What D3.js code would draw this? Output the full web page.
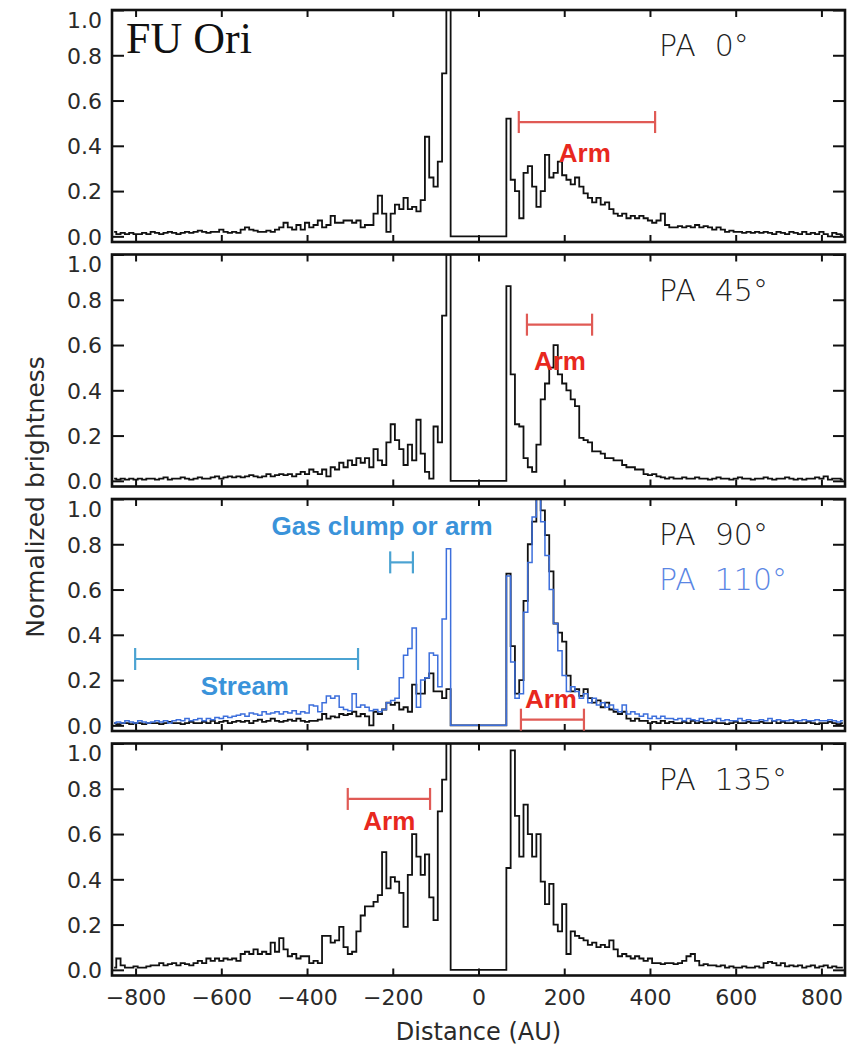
<!DOCTYPE html>
<html><head><meta charset="utf-8">
<script src="https://cdn.jsdelivr.net/npm/d3@7/dist/d3.min.js"></script>
<style>
html,body{margin:0;padding:0;background:#fff;}
svg{display:block;}
</style></head>
<body>
<svg id="chart" width="852" height="1050"></svg>
<script>
// ---------------- DATA ----------------
const distance = [
-850,-840,-830,-820,-810,-800,-790,-780,-770,-760,
-750,-740,-730,-720,-710,-700,-690,-680,-670,-660,
-650,-640,-630,-620,-610,-600,-590,-580,-570,-560,
-550,-540,-530,-520,-510,-500,-490,-480,-470,-460,
-450,-440,-430,-420,-410,-400,-390,-380,-370,-360,
-350,-340,-330,-320,-310,-300,-290,-280,-270,-260,
-250,-240,-230,-220,-210,-200,-190,-180,-170,-160,
-150,-140,-130,-120,-110,-100,-90,-80,-70,-60,
-50,-40,-30,-20,-10,0,10,20,30,40,
50,60,70,80,90,100,110,120,130,140,
150,160,170,180,190,200,210,220,230,240,
250,260,270,280,290,300,310,320,330,340,
350,360,370,380,390,400,410,420,430,440,
450,460,470,480,490,500,510,520,530,540,
550,560,570,580,590,600,610,620,630,640,
650,660,670,680,690,700,710,720,730,740,
750,760,770,780,790,800,810,820,830,840,
850];

const pa0 = [
0.02,0.01,0.015,0.01,0.015,0.01,0.01,0.015,0.01,0.02,
0.015,0.01,0.015,0.02,0.015,0.01,0.015,0.02,0.015,0.02,
0.025,0.02,0.015,0.02,0.02,0.03,0.02,0.015,0.02,0.015,
0.03,0.04,0.03,0.025,0.02,0.02,0.025,0.02,0.03,0.04,
0.06,0.04,0.03,0.05,0.03,0.06,0.04,0.05,0.07,0.04,
0.05,0.09,0.06,0.06,0.07,0.07,0.06,0.07,0.04,0.05,
0.05,0.1,0.18,0.1,0.02,0.1,0.14,0.12,0.17,0.12,
0.13,0.11,0.16,0.44,0.26,0.22,0.33,0.72,1.0,0,
0,0,0,0,0,0,0,0,0,0,
0,0,0.52,0.25,0.2,0.08,0.28,0.31,0.22,0.13,
0.2,0.36,0.26,0.28,0.33,0.27,0.25,0.23,0.26,0.22,
0.19,0.17,0.15,0.17,0.14,0.15,0.12,0.1,0.09,0.1,
0.08,0.09,0.08,0.09,0.08,0.07,0.06,0.07,0.1,0.05,
0.04,0.04,0.045,0.04,0.045,0.04,0.05,0.04,0.045,0.04,
0.03,0.04,0.03,0.02,0.025,0.02,0.02,0.015,0.02,0.015,
0.02,0.015,0.02,0.015,0.01,0.02,0.015,0.01,0.02,0.015,
0.01,0.02,0.01,0.015,0.01,0.02,0.01,0.0,0.015,0.01,
0.005];

const pa45 = [
0.01,0.005,0.01,0.005,0.01,0.005,0.01,0.005,0.01,0.01,
0.005,0.01,0.015,0.005,0.01,0.01,0.015,0.01,0.005,0.01,
0.015,0.01,0.01,0.015,0.02,0.01,0.015,0.02,0.015,0.02,
0.015,0.02,0.025,0.02,0.015,0.02,0.03,0.02,0.025,0.03,
0.025,0.03,0.02,0.03,0.04,0.03,0.05,0.04,0.03,0.05,
0.02,0.06,0.05,0.08,0.06,0.09,0.07,0.1,0.08,0.1,
0.06,0.14,0.09,0.07,0.17,0.25,0.18,0.14,0.07,0.16,
0.09,0.27,0.12,0.04,0.01,0.24,0.17,0.73,1.0,0,
0,0,0,0,0,0,0,0,0,0,
0,0,0.86,0.47,0.25,0.24,0.1,0.06,0.04,0.16,
0.36,0.43,0.5,0.6,0.47,0.43,0.4,0.36,0.33,0.19,
0.18,0.17,0.13,0.13,0.12,0.1,0.1,0.09,0.09,0.07,
0.06,0.06,0.05,0.05,0.03,0.025,0.03,0.02,0.015,0.01,
0.015,0.01,0.01,0.015,0.01,0.01,0.015,0.01,0.01,0.005,
0.01,0.015,0.01,0.01,0.005,0.01,0.015,0.01,0.01,0.005,
0.01,0.01,0.015,0.01,0.005,0.01,0.01,0.015,0.01,0.005,
0.01,0.005,0.01,0.01,0.015,0.01,0.02,0.005,0.01,0.01,
0.005];

const pa90 = [
0.01,0.005,0.01,0.01,0.005,0.01,0.01,0.005,0.01,0.01,
0.01,0.005,0.01,0.015,0.01,0.01,0.005,0.01,0.015,0.01,
0.01,0.015,0.01,0.02,0.01,0.015,0.02,0.01,0.015,0.02,
0.015,0.02,0.01,0.02,0.025,0.015,0.02,0.03,0.02,0.015,
0.02,0.025,0.02,0.03,0.02,0.015,0.02,0.02,0.025,0.05,
0.03,0.04,0.035,0.05,0.045,0.05,0.06,0.04,0.05,0.04,
0.0,0.06,0.05,0.07,0.1,0.09,0.1,0.07,0.08,0.06,
0.18,0.14,0.14,0.21,0.23,0.15,0.15,0.12,0.16,0,
0,0,0,0,0,0,0,0,0,0,
0,0,0.67,0.35,0.14,0.2,0.55,0.8,0.9,1.0,
0.95,0.84,0.68,0.45,0.41,0.37,0.22,0.15,0.16,0.13,
0.16,0.12,0.1,0.11,0.08,0.1,0.07,0.06,0.05,0.06,
0.03,0.02,0.03,0.02,0.02,0.01,0.015,0.01,0.02,0.01,
0.015,0.01,0.01,0.015,0.01,0.02,0.01,0.015,0.01,0.01,
0.015,0.01,0.01,0.005,0.01,0.015,0.01,0.01,0.015,0.01,
0.01,0.015,0.01,0.01,0.02,0.01,0.015,0.01,0.01,0.015,
0.01,0.01,0.015,0.01,0.005,0.01,0.01,0.015,0.01,0.005,
0.01];

const pa110 = [
0.01,0.015,0.01,0.02,0.015,0.01,0.02,0.015,0.01,0.015,
0.02,0.015,0.02,0.01,0.02,0.025,0.02,0.03,0.02,0.025,
0.03,0.02,0.03,0.025,0.035,0.03,0.04,0.035,0.04,0.045,
0.05,0.04,0.055,0.05,0.045,0.06,0.05,0.055,0.06,0.05,
0.06,0.055,0.065,0.05,0.06,0.055,0.09,0.085,0.06,0.1,
0.13,0.12,0.13,0.08,0.07,0.065,0.14,0.08,0.09,0.08,
0.065,0.07,0.06,0.07,0.1,0.11,0.12,0.21,0.31,0.34,
0.43,0.08,0.2,0.21,0.32,0.31,0.17,0.47,0.78,0,
0,0,0,0,0,0,0,0,0,0,
0,0,0.66,0.28,0.12,0.14,0.5,0.72,0.92,1.0,
0.9,0.75,0.6,0.45,0.33,0.22,0.15,0.17,0.15,0.12,
0.14,0.1,0.12,0.09,0.1,0.08,0.09,0.07,0.06,0.09,
0.05,0.06,0.05,0.04,0.05,0.03,0.04,0.03,0.04,0.03,
0.03,0.025,0.03,0.02,0.03,0.025,0.02,0.03,0.02,0.025,
0.02,0.03,0.02,0.025,0.02,0.02,0.03,0.02,0.025,0.02,
0.02,0.025,0.02,0.03,0.02,0.025,0.02,0.02,0.025,0.02,
0.02,0.025,0.02,0.02,0.025,0.02,0.02,0.025,0.02,0.015,
0.02];

const pa135 = [
0.01,0.05,0.02,0.01,0.01,0.015,0.01,0.01,0.015,0.02,
0.02,0.03,0.02,0.025,0.03,0.02,0.03,0.025,0.02,0.03,
0.04,0.03,0.05,0.04,0.05,0.04,0.05,0.045,0.05,0.04,
0.07,0.08,0.07,0.09,0.07,0.08,0.07,0.12,0.08,0.14,
0.09,0.06,0.07,0.05,0.06,0.06,0.03,0.04,0.03,0.15,
0.15,0.12,0.13,0.19,0.1,0.07,0.08,0.17,0.24,0.28,
0.28,0.3,0.33,0.52,0.36,0.41,0.39,0.34,0.19,0.42,
0.6,0.5,0.42,0.51,0.32,0.22,0.7,0.84,1.0,0,
0,0,0,0,0,0,0,0,0,0,
0,0,0.45,0.97,0.68,0.5,0.73,0.6,0.5,0.6,
0.39,0.29,0.38,0.2,0.17,0.29,0.07,0.17,0.15,0.14,
0.13,0.11,0.12,0.1,0.11,0.1,0.13,0.09,0.06,0.07,
0.06,0.05,0.06,0.05,0.04,0.05,0.03,0.03,0.025,0.03,
0.03,0.025,0.03,0.04,0.06,0.07,0.04,0.02,0.025,0.02,
0.02,0.015,0.02,0.01,0.015,0.01,0.01,0.015,0.01,0.01,
0.015,0.01,0.03,0.035,0.03,0.02,0.03,0.015,0.02,0.015,
0.02,0.01,0.015,0.02,0.01,0.015,0.02,0.01,0.015,0.01,
0.01];

const xTicks = [-800,-600,-400,-200,0,200,400,600,800];
const yTicks = [0.0,0.2,0.4,0.6,0.8,1.0];
const panelLabels = [["PA 0°"],["PA 45°"],["PA 90°","PA 110°"],["PA 135°"]];
const panelSeries = [[pa0],[pa45],[pa90,pa110],[pa135]];

// annotations (distance in AU, value in brightness units)
const bars = [
  {panel:0, x0:94,   x1:412,  v:0.505, kind:"red"},
  {panel:1, x0:113,  x1:265,  v:0.69,  kind:"red"},
  {panel:2, x0:-206, x1:-153, v:0.72,  kind:"blue"},
  {panel:2, x0:-801, x1:-281, v:0.293, kind:"blue"},
  {panel:2, x0:99,   x1:246,  v:0.025, kind:"red"},
  {panel:3, x0:-305, x1:-113, v:0.755, kind:"red"}
];
const notes = [
  {panel:0, x:248,  v:0.33,  text:"Arm", kind:"red"},
  {panel:1, x:190,  v:0.49,  text:"Arm", kind:"red"},
  {panel:2, x:-225, v:0.84,  text:"Gas clump or arm", kind:"blue"},
  {panel:2, x:-545, v:0.135, text:"Stream", kind:"blue"},
  {panel:2, x:169,  v:0.076, text:"Arm", kind:"red"},
  {panel:3, x:-208, v:0.62,  text:"Arm", kind:"red"}
];

// ---------------- LAYOUT ----------------
const svg = d3.select("#chart");
const L = 112, R = 845;
const panelTops = [10, 254.5, 499, 743.5];
const PH = 232;
const x = d3.scaleLinear().domain([-855, 855]).range([L, R]);
const tickFont = "'DejaVu Sans', sans-serif";
const lineColors = ["#111", "#3d6fdc"];
const annColor = {red: {bar: "#e05a55", text: "#e8281e"}, blue: {bar: "#4ba3d2", text: "#3a93da"}};

svg.append("rect").attr("width", 852).attr("height", 1050).attr("fill", "#fff");

panelTops.forEach((top, pi) => {
  const y = d3.scaleLinear().domain([-0.025, 1.0]).range([top + PH, top]);
  const g = svg.append("g");
  const clipId = "clip" + pi;
  svg.append("clipPath").attr("id", clipId).append("rect")
    .attr("x", L).attr("y", top).attr("width", R - L).attr("height", PH);

  // series lines
  const line = d3.line().x((d, i) => x(distance[i])).y(d => y(d)).curve(d3.curveStep);
  panelSeries[pi].forEach((s, si) => {
    g.append("path").attr("d", line(s)).attr("fill", "none")
      .attr("stroke", lineColors[si]).attr("stroke-width", si === 0 ? 1.8 : 1.5)
      .attr("stroke-linejoin", "miter")
      .attr("clip-path", `url(#${clipId})`);
  });

  // ticks (inward) via d3 axes
  const axL = d3.axisLeft(y).tickValues(yTicks).tickSize(-12).tickFormat(d3.format(".1f"));
  const axR = d3.axisRight(y).tickValues(yTicks).tickSize(-12).tickFormat("");
  const axT = d3.axisTop(x).tickValues(xTicks).tickSize(-7).tickFormat("");
  const axB = d3.axisBottom(x).tickValues(xTicks).tickSize(-7)
    .tickFormat(pi === 3 ? (d => (d < 0 ? "\u2212" + Math.abs(d) : d)) : "");

  const gl = g.append("g").attr("transform", `translate(${L},0)`).call(axL);
  const gr = g.append("g").attr("transform", `translate(${R},0)`).call(axR);
  const gt = g.append("g").attr("transform", `translate(0,${top})`).call(axT);
  const gb = g.append("g").attr("transform", `translate(0,${top + PH})`).call(axB);
  [gl, gr, gt, gb].forEach(a => {
    a.select(".domain").remove();
    a.selectAll(".tick line").attr("stroke", "#111").attr("stroke-width", 2);
  });
  gl.selectAll(".tick text").attr("font-family", tickFont).attr("font-size", 22)
    .attr("fill", "#2a2a2a").attr("x", -10)
    .attr("dy", d => d === 1.0 ? "0.78em" : "0.36em");
  gb.selectAll(".tick text").attr("font-family", tickFont).attr("font-size", 22)
    .attr("fill", "#2a2a2a").attr("y", 14).attr("dy", "0.71em");

  // frame
  g.append("rect").attr("x", L).attr("y", top).attr("width", R - L).attr("height", PH)
    .attr("fill", "none").attr("stroke", "#111").attr("stroke-width", 2.6);

  // PA labels
  panelLabels[pi].forEach((t, k) => {
    g.append("text").attr("x", 659).attr("y", top + 46 + k * 45)
      .attr("font-family", tickFont).attr("font-weight", 300).attr("font-size", 30)
      .attr("fill", k === 0 ? "#222" : "#5a86e4")
      .style("white-space", "pre").text(t.replace(" ", "  "));
  });

  // annotation bars
  bars.filter(b => b.panel === pi).forEach(b => {
    const c = annColor[b.kind].bar, yy = y(b.v);
    g.append("line").attr("x1", x(b.x0)).attr("x2", x(b.x1)).attr("y1", yy).attr("y2", yy)
      .attr("stroke", c).attr("stroke-width", 2.2);
    [b.x0, b.x1].forEach(xx => g.append("line").attr("x1", x(xx)).attr("x2", x(xx))
      .attr("y1", yy - 11).attr("y2", yy + 11).attr("stroke", c).attr("stroke-width", 2.2));
  });
  notes.filter(n => n.panel === pi).forEach(n => {
    g.append("text").attr("x", x(n.x)).attr("y", y(n.v)).attr("text-anchor", "middle")
      .attr("font-family", "'Liberation Sans', Arial, sans-serif").attr("font-weight", "bold")
      .attr("font-size", 26).attr("fill", annColor[n.kind].text).text(n.text);
  });
});

// FU Ori
svg.append("text").attr("x", 126).attr("y", 53)
  .attr("font-family", "'Liberation Serif', 'Times New Roman', serif").attr("font-size", 44)
  .attr("fill", "#111").text("FU Ori");

// axis titles
svg.append("text").attr("x", x(0)).attr("y", 1040).attr("text-anchor", "middle")
  .attr("font-family", tickFont).attr("font-size", 24).attr("fill", "#2a2a2a").text("Distance (AU)");
svg.append("text").attr("transform", "translate(44,497) rotate(-90)").attr("text-anchor", "middle")
  .attr("font-family", tickFont).attr("font-size", 25).attr("fill", "#2a2a2a").text("Normalized brightness");
</script>
</body></html>
